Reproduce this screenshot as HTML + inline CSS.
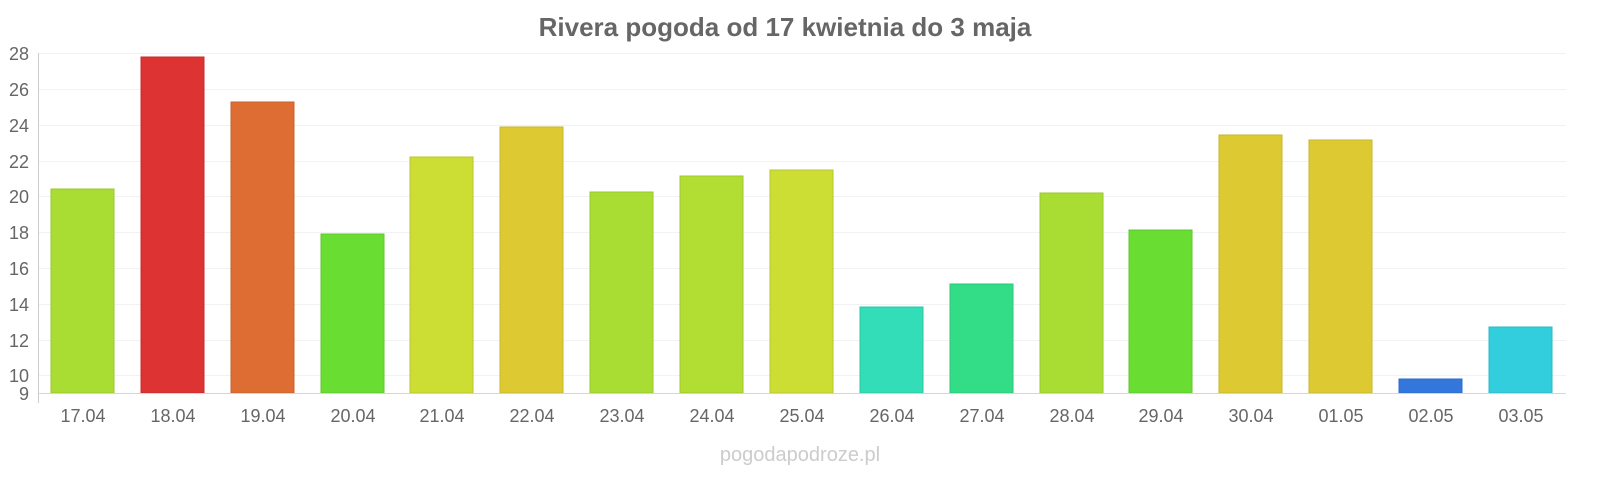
<!DOCTYPE html>
<html><head><meta charset="utf-8"><style>
body{margin:0;background:#fff;font-family:"Liberation Sans",sans-serif}
</style></head><body>
<svg width="1600" height="480" xmlns="http://www.w3.org/2000/svg" font-family="Liberation Sans, sans-serif">
<rect width="1600" height="480" fill="#fff"/>
<text x="785" y="36" text-anchor="middle" font-size="26" font-weight="bold" fill="#666">Rivera pogoda od 17 kwietnia do 3 maja</text>
<g stroke="#f2f2f2" stroke-width="1">
<line x1="38" x2="1566" y1="53.5" y2="53.5"/><line x1="38" x2="1566" y1="89.5" y2="89.5"/>
<line x1="38" x2="1566" y1="125.5" y2="125.5"/><line x1="38" x2="1566" y1="161.5" y2="161.5"/>
<line x1="38" x2="1566" y1="196.5" y2="196.5"/><line x1="38" x2="1566" y1="232.5" y2="232.5"/>
<line x1="38" x2="1566" y1="268.5" y2="268.5"/><line x1="38" x2="1566" y1="304.5" y2="304.5"/>
<line x1="38" x2="1566" y1="340.5" y2="340.5"/><line x1="38" x2="1566" y1="375.5" y2="375.5"/>
</g>
<line x1="38.5" x2="38.5" y1="53" y2="403" stroke="#ccc"/>
<g font-size="18" fill="#666" text-anchor="end">
<text x="29" y="60">28</text><text x="29" y="96">26</text><text x="29" y="132">24</text>
<text x="29" y="168">22</text><text x="29" y="203">20</text><text x="29" y="239">18</text>
<text x="29" y="275">16</text><text x="29" y="311">14</text><text x="29" y="347">12</text>
<text x="29" y="382">10</text><text x="29" y="400">9</text>
</g>
<g stroke-width="1">
<rect x="51" y="189" width="63" height="204" fill="#aadd33" stroke="#99c62e"/>
<rect x="141" y="57" width="63" height="336" fill="#dd3333" stroke="#c62e2e"/>
<rect x="231" y="102" width="63" height="291" fill="#dd6d33" stroke="#c6622e"/>
<rect x="321" y="234" width="63" height="159" fill="#6add33" stroke="#5fc62e"/>
<rect x="410" y="157" width="63" height="236" fill="#ccdd33" stroke="#b7c62e"/>
<rect x="500" y="127" width="63" height="266" fill="#ddca33" stroke="#c6b52e"/>
<rect x="590" y="192" width="63" height="201" fill="#aadd33" stroke="#99c62e"/>
<rect x="680" y="176" width="63" height="217" fill="#b2dd33" stroke="#a0c62e"/>
<rect x="770" y="170" width="63" height="223" fill="#ccdd33" stroke="#b7c62e"/>
<rect x="860" y="307" width="63" height="86" fill="#33ddb8" stroke="#2ec6a5"/>
<rect x="950" y="284" width="63" height="109" fill="#33dd88" stroke="#2ec67a"/>
<rect x="1040" y="193" width="63" height="200" fill="#aadd33" stroke="#99c62e"/>
<rect x="1129" y="230" width="63" height="163" fill="#6add33" stroke="#5fc62e"/>
<rect x="1219" y="135" width="63" height="258" fill="#ddca33" stroke="#c6b52e"/>
<rect x="1309" y="140" width="63" height="253" fill="#ddca33" stroke="#c6b52e"/>
<rect x="1399" y="379" width="63" height="14" fill="#3377dd" stroke="#2e6bc6"/>
<rect x="1489" y="327" width="63" height="66" fill="#33cedd" stroke="#2eb9c6"/>
</g>
<line x1="38" x2="1566" y1="393.5" y2="393.5" stroke="#ccd6eb"/>
<g font-size="18" fill="#666" text-anchor="middle">
<text x="83" y="422">17.04</text><text x="173" y="422">18.04</text><text x="263" y="422">19.04</text>
<text x="353" y="422">20.04</text><text x="442" y="422">21.04</text><text x="532" y="422">22.04</text>
<text x="622" y="422">23.04</text><text x="712" y="422">24.04</text><text x="802" y="422">25.04</text>
<text x="892" y="422">26.04</text><text x="982" y="422">27.04</text><text x="1072" y="422">28.04</text>
<text x="1161" y="422">29.04</text><text x="1251" y="422">30.04</text><text x="1341" y="422">01.05</text>
<text x="1431" y="422">02.05</text><text x="1521" y="422">03.05</text>
</g>
<text x="800" y="461" text-anchor="middle" font-size="20" fill="#ccc">pogodapodroze.pl</text>
</svg>
</body></html>
